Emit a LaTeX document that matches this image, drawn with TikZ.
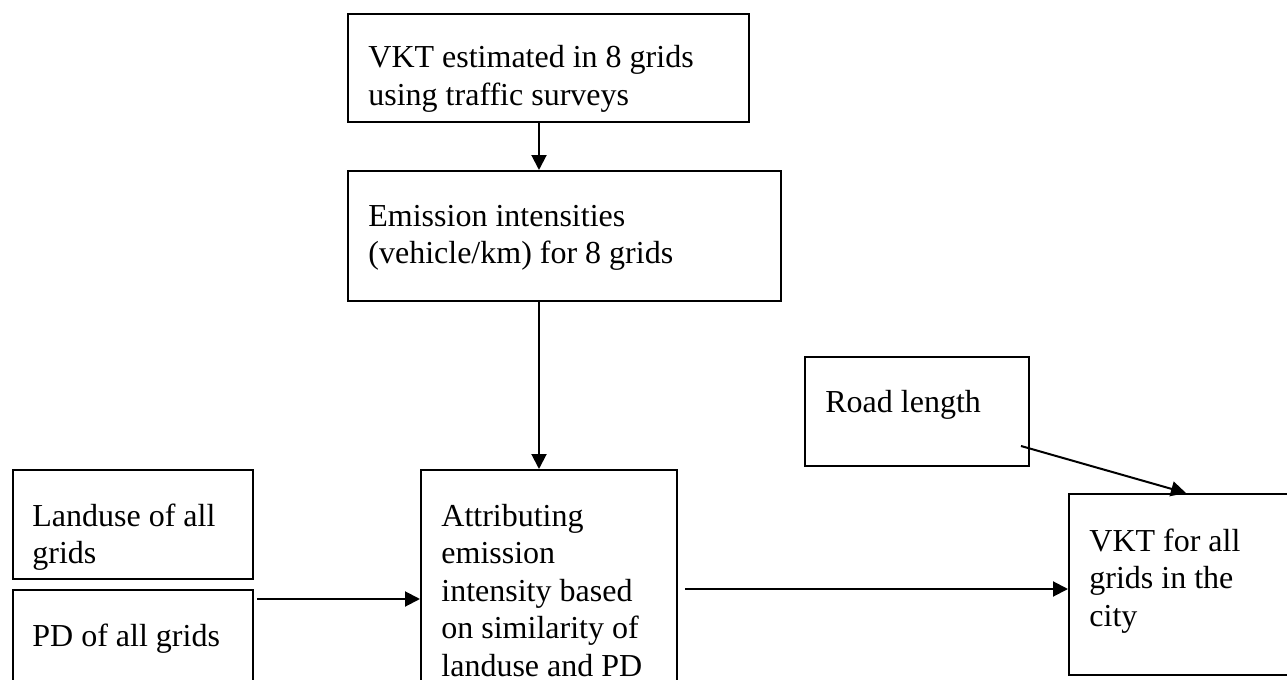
\documentclass[tikz,border=0pt]{standalone}
\usepackage{fontspec}
\setmainfont{Liberation Serif}
\usetikzlibrary{arrows.meta}
\usetikzlibrary{fit}
\tikzset{>={Triangle[length=7.5pt,width=7.5pt]}}
\tikzset{
  box/.style={draw, line width=1pt, inner sep=0pt},
  txt/.style={anchor=base west, inner sep=0pt, font=\fontsize{16}{18.75}\selectfont},
  conn/.style={->, line width=1pt}
}
\newcommand{\boxlines}[1]{\begin{tabular}[t]{@{}l@{}}#1\end{tabular}}

\begin{document}
\begin{tikzpicture}[x=0.5pt,y=-0.5pt]
\useasboundingbox (0,0) rectangle (1287,680);

% boxes, corners given in px from the top left
\node[box, fit={(348,14) (749,122)}] (survey) {};
\node[box, fit={(348,171) (781,301)}] (intens) {};
\node[box, fit={(13,470) (253,579)}] (landuse) {};
\node[box, fit={(13,590) (253,700)}] (pd) {};
\node[box, fit={(421,470) (677,700)}] (attrib) {};
\node[box, fit={(805,357) (1029,466)}] (road) {};
\node[box, fit={(1069,494) (1290,675)}] (vkt) {};

% texts, the two short boxes cut off their last line
\begin{scope}
\clip (survey.north west) rectangle ([shift={(0,-11)}]survey.south east);
\node[txt] (surveytxt) at ([shift={(21,55)}]survey.north west) {\boxlines{VKT estimated in 8 grids\\using traffic surveys}};
\end{scope}
\node[txt] (intenstxt) at ([shift={(21,56)}]intens.north west) {\boxlines{Emission intensities\\(vehicle/km) for 8 grids}};
\begin{scope}
\clip (landuse.north west) rectangle ([shift={(0,-11)}]landuse.south east);
\node[txt] (landusetxt) at ([shift={(20,57)}]landuse.north west) {\boxlines{Landuse of all\\grids}};
\end{scope}
\node[txt] (pdtxt) at ([shift={(20,57)}]pd.north west) {PD of all grids};
\node[txt] (attribtxt) at ([shift={(21,57)}]attrib.north west) {\boxlines{Attributing\\emission\\intensity based\\on similarity of\\landuse and PD}};
\node[txt] (roadtxt) at ([shift={(21,56)}]road.north west) {Road length};
\node[txt] (vkttxt) at ([shift={(21,58)}]vkt.north west) {\boxlines{VKT for all\\grids in the\\city}};

% connectors
\coordinate (surveyout) at ([shift={(192,0)}]survey.south west);
\draw[conn] (surveyout) -- (surveyout |- intens.north);
\coordinate (intensout) at ([shift={(192,0)}]intens.south west);
\draw[conn] (intensout) -- (intensout |- attrib.north);
\coordinate (pdout) at ([shift={(3,10)}]pd.north east);
\draw[conn] (pdout) -- (pdout -| attrib.west);
\coordinate (attribout) at ([shift={(7,120)}]attrib.north east);
\draw[conn] (attribout) -- (attribout -| vkt.west);
\coordinate (roadout) at ([shift={(-9,-21)}]road.south east);
\draw[conn] (roadout) -- ([shift={(118,0)}]vkt.north west);

\end{tikzpicture}
\end{document}
